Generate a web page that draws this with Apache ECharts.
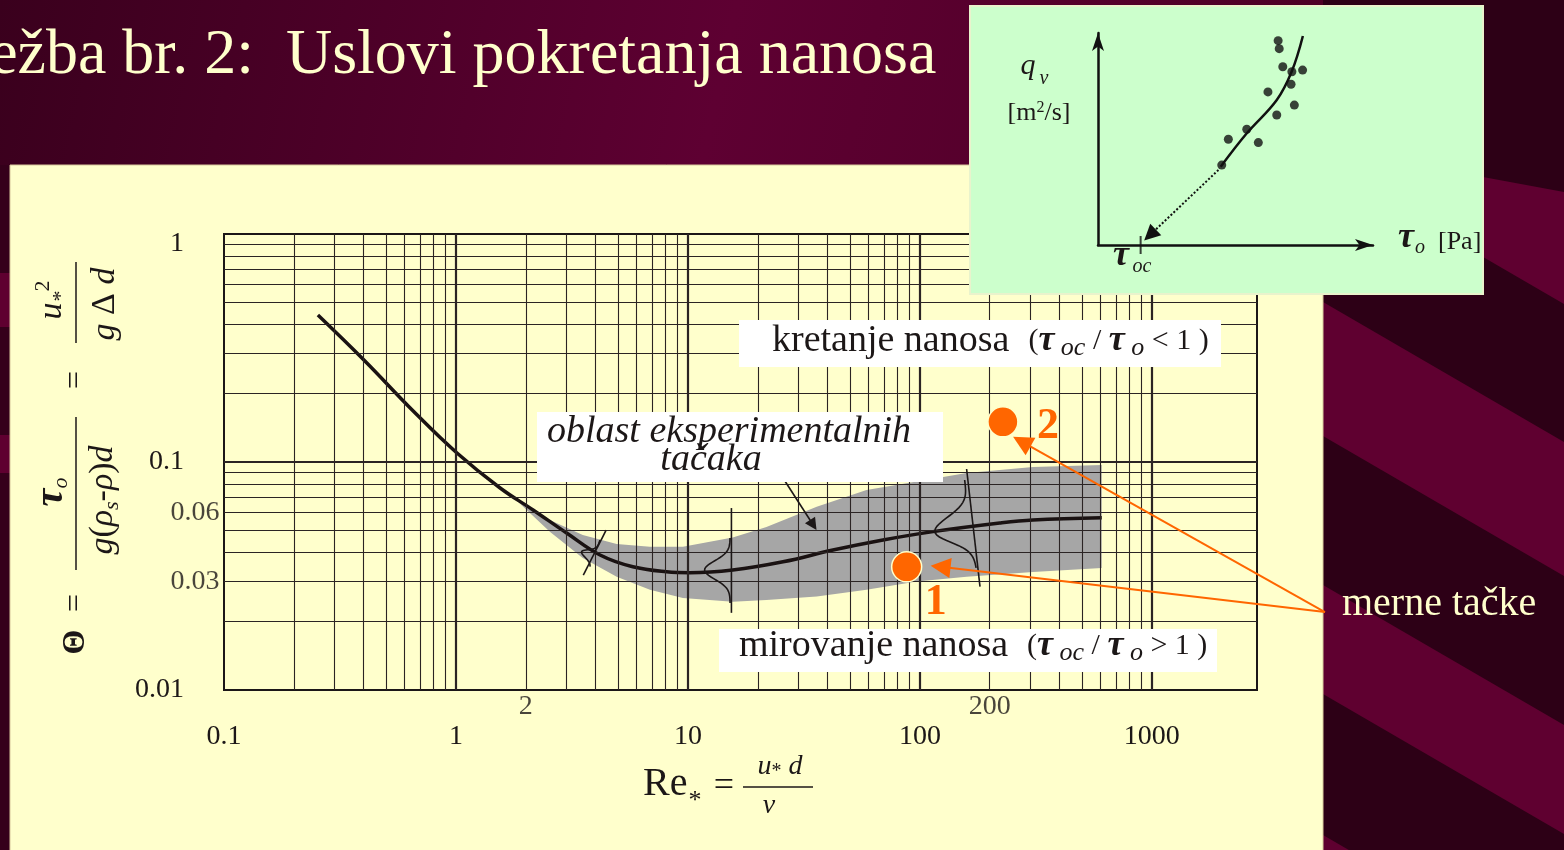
<!DOCTYPE html>
<html>
<head>
<meta charset="utf-8">
<title>Uslovi pokretanja nanosa</title>
<script src="https://cdn.jsdelivr.net/npm/echarts@6/dist/echarts.min.js"></script>
<style>
  html, body { margin: 0; padding: 0; background: #3b001f; }
  #main { width: 1564px; height: 850px; }
</style>
</head>
<body>
<div id="main"></div>
<script>
// axis ranges and tick labels (Shields diagram, log-log)
const xRange = [0.1, 2840];
const yRange = [0.01, 1];
const xExtraLabels = [2, 200];
const yExtraLabels = [0.03, 0.06];

// critical Shields curve Θ(Re*)
const curveRe    = [0.254, 0.401, 0.659, 1.01, 1.55, 2.15, 3.00, 4.18, 5.79, 8.09, 10.2, 15.6, 25.7, 42.2, 69.3, 114, 221, 307, 608];
const curveTheta = [0.441, 0.280, 0.166, 0.1095, 0.0769, 0.0616, 0.0488, 0.0391, 0.0347, 0.0330, 0.0327, 0.0336, 0.0365, 0.0411, 0.0455, 0.0495, 0.0540, 0.0557, 0.0570];

// area of experimental points (grey band)
const bandRe    = [1.85, 2.54, 3.52, 4.93, 6.86, 9.51, 15.6, 21.8, 35.9, 58.9, 96.9, 159, 307, 608];
const bandUpper = [0.067, 0.0557, 0.0479, 0.0437, 0.0425, 0.0425, 0.0467, 0.0519, 0.0637, 0.0754, 0.0821, 0.0895, 0.095, 0.097];
const bandLower = [0.067, 0.0495, 0.0379, 0.0314, 0.0275, 0.0253, 0.0244, 0.0248, 0.0257, 0.0275, 0.0299, 0.0314, 0.0329, 0.0343];

// measured points 1 and 2
const pointRe    = [87.7, 228];
const pointTheta = [0.0347, 0.150];
const pointNames = ['1', '2'];

// scatter bells: line start, line end, bell start, bell end, bell peak  (Re, Θ pairs)
const bells = [
  [3.54, 0.0319, 4.44, 0.0503, 4.18, 0.0455, 3.79, 0.0347, 3.48, 0.0404],
  [15.4, 0.0628, 15.4, 0.0218, 15.2, 0.0464, 15.2, 0.0241, 11.8, 0.0336],
  [159, 0.0932, 181.6, 0.0284, 156, 0.0834, 175, 0.0343, 116, 0.0495]
];
const bandArrow = [[24.1, 0.0941], [34.7, 0.0529]];
const orangeTail = [5574, 0.02198];
const orangeTips = [[122.8, 0.0347], [275, 0.1228]];

// inset: q_v vs tau_o
const insetDotX = [6.55, 6.59, 6.72, 7.05, 7.44, 6.18, 7.02, 7.14, 6.50, 5.41, 4.74, 5.83, 4.50];
const insetDotY = [9.64, 9.26, 8.41, 8.17, 8.25, 7.22, 7.58, 6.60, 6.13, 5.46, 4.99, 4.83, 3.77];
const insetCurveX = [4.46, 5.41, 6.50, 7.04, 7.45];
const insetCurveY = [3.69, 5.27, 6.84, 8.17, 9.86];
const insetArrow = [[4.38, 3.54], [1.89, 0.47]];
const insetTauOc = 1.55;

const SERIF = '"Liberation Serif", "Times New Roman", serif';
const INK = '#1c1717';
const CREAM = '#FFFFCC';
const ORANGE = '#ff6600';

// log grid lines
const minorX = [], minorY = [];
[0.1, 1, 10, 100].forEach(d => { for (let k = 2; k <= 9; k++) minorX.push(+(k * d).toPrecision(3)); });
[0.01, 0.1].forEach(d => { for (let k = 2; k <= 9; k++) minorY.push(+(k * d).toPrecision(3)); });
const majorX = [1, 10, 100, 1000];
const majorY = [0.1];
const gridMarks = [].concat(
  minorX.map(v => ({ xAxis: v, lineStyle: { width: 1.1 } })),
  majorX.map(v => ({ xAxis: v, lineStyle: { width: 2.2 } })),
  minorY.map(v => ({ yAxis: v, lineStyle: { width: 1.1 } })),
  majorY.map(v => ({ yAxis: v, lineStyle: { width: 2.2 } }))
);

const fmtDecade = v => {
  const e = Math.log10(v);
  if (Math.abs(e - Math.round(e)) > 1e-6) return '';
  return String(+v.toPrecision(4));
};

function txt(x, y, text, font, align, fill) {
  align = align || 'center';
  return {
    type: 'text', x: x, y: y, z: 110, silent: true,
    style: { text: text, font: font + ' ' + SERIF, fill: fill || INK, align: align, verticalAlign: 'middle',
             textAlign: align, textVerticalAlign: 'middle' }
  };
}
function richTxt(x, y, text, rich, align, baseSize) {
  return {
    type: 'text', x: x, y: y, z: 110, silent: true,
    style: { text: text, rich: rich, fontSize: baseSize || 38, fontFamily: SERIF, fill: INK,
             align: align, verticalAlign: 'middle', textAlign: align, textVerticalAlign: 'middle' }
  };
}
function rule(x1, y1, x2, y2, w, color) {
  return { type: 'line', z: 110, silent: true, shape: { x1, y1, x2, y2 }, style: { stroke: color || INK, lineWidth: w || 1.5 } };
}

const relRich = {
  a: { fontSize: 38, fontFamily: SERIF, fill: INK, lineHeight: 40 },
  p: { fontSize: 30, fontFamily: SERIF, fill: INK, lineHeight: 40 },
  t: { fontSize: 36, fontFamily: SERIF, fontStyle: 'italic', fontWeight: 'bold', fill: INK, lineHeight: 40 },
  s: { fontSize: 26, fontFamily: SERIF, fontStyle: 'italic', fill: INK, lineHeight: 22, verticalAlign: 'bottom' }
};
const mathRich = {
  i: { fontSize: 34, fontFamily: SERIF, fontStyle: 'italic', fill: INK, lineHeight: 40 },
  n: { fontSize: 34, fontFamily: SERIF, fill: INK, lineHeight: 40 },
  t: { fontSize: 40, fontFamily: SERIF, fontStyle: 'italic', fontWeight: 'bold', fill: INK, lineHeight: 40 },
  s: { fontSize: 22, fontFamily: SERIF, fontStyle: 'italic', fill: INK, lineHeight: 20, verticalAlign: 'bottom' },
  u: { fontSize: 22, fontFamily: SERIF, fill: INK, lineHeight: 20, verticalAlign: 'top' }
};

// background of the slide
const stripes = [
  [[1323, 150], [1483, 177], [1564, 192], [1564, 304], [1323, 164]],
  [[1323, 302], [1564, 442], [1564, 576], [1323, 436]],
  [[1323, 585], [1564, 725], [1564, 834], [1323, 694]],
  [[1323, 835], [1564, 975], [1564, 1110], [1323, 970]]
].map(p => ({ type: 'polygon', z: -18, silent: true, shape: { points: p }, style: { fill: '#5f0030' } }));

const graphics = [
  { type: 'rect', z: -20, silent: true, shape: { x: 0, y: 0, width: 1564, height: 850 },
    style: { fill: new echarts.graphic.LinearGradient(0, 0, 1, 0.4, [
      { offset: 0, color: '#3a001d' }, { offset: 0.45, color: '#5e0032' }, { offset: 1, color: '#45001f' }]) } },
  { type: 'rect', z: -19, silent: true, shape: { x: 1323, y: 0, width: 241, height: 850 }, style: { fill: '#2d0016' } },
  ...stripes,
  { type: 'rect', z: -18, silent: true, shape: { x: 0, y: 165, width: 10, height: 685 }, style: { fill: '#35001b' } },
  { type: 'rect', z: -17, silent: true, shape: { x: 0, y: 273, width: 10, height: 54 }, style: { fill: '#5f0030' } },
  { type: 'rect', z: -17, silent: true, shape: { x: 0, y: 435, width: 10, height: 38 }, style: { fill: '#5f0030' } },
  { type: 'rect', z: -15, silent: true, shape: { x: 10, y: 165, width: 1313, height: 690 },
    style: { fill: CREAM, stroke: '#d8c89c', lineWidth: 1 } },
  { type: 'rect', z: 50, silent: true, shape: { x: 970, y: 6, width: 513, height: 288 },
    style: { fill: '#CCFFCC', stroke: '#e9f3cc', lineWidth: 2 } },

  // slide title
  txt(-50, 56, 'Vežba br. 2:  Uslovi pokretanja nanosa', '64px', 'left', CREAM),

  // white label boxes
  { type: 'rect', z: 100, silent: true, shape: { x: 739, y: 320, width: 482, height: 47 }, style: { fill: '#fff' } },
  richTxt(772, 341, '{a|kretanje nanosa}  {p|(}{t|τ}{s| oc}{p| / }{t|τ}{s| o}{p| < 1 )}', relRich, 'left'),
  { type: 'rect', z: 100, silent: true, shape: { x: 537, y: 412, width: 406, height: 70 }, style: { fill: '#fff' } },
  txt(547, 432, 'oblast eksperimentalnih', 'italic 38px', 'left'),
  txt(711, 460, 'tačaka', 'italic 38px'),
  { type: 'rect', z: 100, silent: true, shape: { x: 719, y: 629, width: 498, height: 43 }, style: { fill: '#fff' } },
  richTxt(739, 646, '{a|mirovanje nanosa}  {p|(}{t|τ}{s| oc}{p| / }{t|τ}{s| o}{p| > 1 )}', relRich, 'left'),

  // right-hand label
  txt(1342, 604, 'merne tačke', '40px', 'left', CREAM),

  // x axis title  Re* = u* d / ν
  txt(643, 784, 'Re', '40px', 'left'),
  txt(695, 801, '*', '26px'),
  txt(724, 787, '=', '36px'),
  rule(743, 787, 813, 787, 1.5),
  richTxt(780, 767, '{i|u}{s|*}{i| d}', { i: { fontSize: 28, fontFamily: SERIF, fontStyle: 'italic', fill: INK, lineHeight: 30 },
    s: { fontSize: 20, fontFamily: SERIF, fill: INK, lineHeight: 16, verticalAlign: 'bottom' } }, 'center', 28),
  txt(769, 806, 'ν', 'italic 28px'),

  // y axis title (rotated)  Θ = τo / g(ρs-ρ)d = u*² / gΔd
  { type: 'group', x: 76, y: 690, rotation: Math.PI / 2, z: 110, silent: true, children: [
    txt(48, 0, 'Θ', 'bold 32px'),
    txt(87, 0, '=', '32px'),
    rule(120, 0, 273, 0, 1.5),
    richTxt(198, -24, '{t|τ}{s|o}', mathRich, 'center'),
    richTxt(190, 27, '{i|g}{n|(}{i|ρ}{s|s}{n|-}{i|ρ}{n|)}{i|d}', mathRich, 'center'),
    txt(310, 0, '=', '32px'),
    rule(347, 0, 428, 0, 1.5),
    richTxt(390, -24, '{i|u}{s|*}{u|2}', mathRich, 'center'),
    richTxt(386, 29, '{i|g}{n| Δ }{i|d}', mathRich, 'center')
  ] },

  // inset labels
  txt(1028, 66, 'q', 'italic 30px'),
  txt(1044, 79, 'v', 'italic 20px'),
  richTxt(1039, 113, '[m{u|2}/s]', { u: { fontSize: 16, fontFamily: SERIF, fill: INK, lineHeight: 14, verticalAlign: 'top' } }, 'center', 26),
  txt(1406, 238, 'τ', 'italic bold 36px'),
  txt(1420, 248, 'o', 'italic 20px'),
  txt(1438, 242, '[Pa]', '26px', 'left'),
  txt(1121, 256, 'τ', 'italic bold 36px'),
  txt(1142, 267, 'oc', 'italic 20px')
];

const chart = echarts.init(document.getElementById('main'));

const option = {
  animation: false,
  backgroundColor: '#3b001f',
  grid: [
    { left: 224, top: 234, width: 1033, height: 456, show: true, borderColor: INK, borderWidth: 2, backgroundColor: 'transparent' },
    { left: 1098, top: 33, width: 275, height: 212 }
  ],
  xAxis: [
    { type: 'log', gridIndex: 0, min: xRange[0], max: xRange[1], logBase: 10,
      axisLine: { lineStyle: { color: INK, width: 2 } }, axisTick: { show: false }, splitLine: { show: false },
      axisLabel: { margin: 33, fontFamily: SERIF, fontSize: 28, color: INK, formatter: fmtDecade, showMaxLabel: false } },
    { type: 'value', gridIndex: 1, min: 0, max: 10, z: 60,
      axisLine: { lineStyle: { color: '#111', width: 2.5 }, symbol: ['none', 'arrow'], symbolSize: [9, 18] },
      axisTick: { show: false }, axisLabel: { show: false }, splitLine: { show: false } }
  ],
  yAxis: [
    { type: 'log', gridIndex: 0, min: yRange[0], max: yRange[1], logBase: 10,
      axisLine: { lineStyle: { color: INK, width: 2 } }, axisTick: { show: false }, splitLine: { show: false },
      axisLabel: { margin: 40, fontFamily: SERIF, fontSize: 28, color: INK,
        formatter: v => { const s = fmtDecade(v); return s === '1' ? '{top|1}' : s; },
        rich: { top: { fontFamily: SERIF, fontSize: 28, color: INK, padding: [20, 0, 0, 0] } } } },
    { type: 'value', gridIndex: 1, min: 0, max: 10, z: 60,
      axisLine: { lineStyle: { color: '#111', width: 2.5 }, symbol: ['none', 'arrow'], symbolSize: [9, 18] },
      axisTick: { show: false }, axisLabel: { show: false }, splitLine: { show: false } }
  ],
  graphic: { elements: graphics },
  series: [
    { // grey area of experimental points
      type: 'custom', xAxisIndex: 0, yAxisIndex: 0, z: 1, silent: true,
      data: [[bandRe[0], bandUpper[0]]],
      renderItem: (params, api) => {
        const up = bandRe.map((r, i) => api.coord([r, bandUpper[i]]));
        const lo = bandRe.map((r, i) => api.coord([r, bandLower[i]])).reverse();
        return { type: 'polygon', shape: { points: up.concat(lo) }, style: { fill: '#a6a6a6' } };
      }
    },
    { // log grid
      type: 'line', xAxisIndex: 0, yAxisIndex: 0, z: 2, data: [], silent: true,
      markLine: { silent: true, symbol: ['none', 'none'], label: { show: false },
        lineStyle: { color: '#2b2424', type: 'solid' }, emphasis: { disabled: true }, data: gridMarks }
    },
    { // Shields curve
      type: 'line', xAxisIndex: 0, yAxisIndex: 0, z: 4, smooth: 0.4, symbol: 'none', silent: true,
      lineStyle: { color: '#1a1212', width: 3.5 },
      data: curveRe.map((r, i) => [r, curveTheta[i]])
    },
    { // distribution bells
      type: 'custom', xAxisIndex: 0, yAxisIndex: 0, z: 5, silent: true,
      data: bells,
      renderItem: (params, api) => {
        const c = i => api.coord([api.value(i), api.value(i + 1)]);
        const L1 = c(0), L2 = c(2), S = c(4), E = c(6), P = c(8);
        const dx = E[0] - S[0], dy = E[1] - S[1];
        const len = Math.hypot(dx, dy), ux = dx / len, uy = dy / len;
        const t0 = ((P[0] - S[0]) * ux + (P[1] - S[1]) * uy) / len;
        const bx = S[0] + ux * t0 * len, by = S[1] + uy * t0 * len;
        const nx = P[0] - bx, ny = P[1] - by;
        const pts = [];
        for (let k = 0; k <= 40; k++) {
          const t = k / 40;
          const g = Math.exp(-Math.pow((t - t0) / 0.2, 2));
          pts.push([S[0] + ux * t * len + nx * g, S[1] + uy * t * len + ny * g]);
        }
        return { type: 'group', children: [
          { type: 'line', shape: { x1: L1[0], y1: L1[1], x2: L2[0], y2: L2[1] }, style: { stroke: INK, lineWidth: 1.6 } },
          { type: 'polyline', shape: { points: pts }, style: { stroke: INK, lineWidth: 1.6, fill: null } }
        ] };
      }
    },
    { // arrow from the band label
      type: 'lines', coordinateSystem: 'cartesian2d', xAxisIndex: 0, yAxisIndex: 0, z: 5, silent: true, clip: false,
      symbol: ['none', 'triangle'], symbolSize: 12,
      lineStyle: { color: INK, width: 1.6, opacity: 1 },
      data: [{ coords: bandArrow }]
    },
    { // measured points
      type: 'scatter', xAxisIndex: 0, yAxisIndex: 0, z: 7, silent: true, clip: false,
      symbolSize: 30, itemStyle: { color: ORANGE, borderColor: CREAM, borderWidth: 1.5, opacity: 1 },
      label: { show: true, position: 'inside', color: ORANGE, fontFamily: SERIF, fontSize: 44, fontWeight: 'bold',
        formatter: p => pointNames[p.dataIndex] },
      data: pointRe.map((r, i) => ({ value: [r, pointTheta[i]], label: { offset: i === 0 ? [29, 36] : [45, 5] } }))
    },
    { // orange arrows from "merne tačke"
      type: 'lines', coordinateSystem: 'cartesian2d', xAxisIndex: 0, yAxisIndex: 0, z: 6, silent: true, clip: false,
      symbol: ['none', 'triangle'], symbolSize: 20,
      lineStyle: { color: ORANGE, width: 2, opacity: 1 },
      data: orangeTips.map(t => ({ coords: [orangeTail, t] }))
    },
    { // extra tick labels 2, 200
      type: 'scatter', xAxisIndex: 0, yAxisIndex: 0, z: 6, silent: true, clip: false, symbolSize: 1,
      itemStyle: { color: 'rgba(0,0,0,0)' },
      label: { show: true, position: 'bottom', distance: 2, color: INK, fontFamily: SERIF, fontSize: 28,
        formatter: p => String(p.value[0]) },
      data: xExtraLabels.map(v => [v, yRange[0]])
    },
    { // extra tick labels 0.03, 0.06
      type: 'scatter', xAxisIndex: 0, yAxisIndex: 0, z: 6, silent: true, clip: false, symbolSize: 1,
      itemStyle: { color: 'rgba(0,0,0,0)' },
      label: { show: true, position: 'left', distance: 4, color: INK, fontFamily: SERIF, fontSize: 28,
        formatter: p => String(p.value[1]) },
      data: yExtraLabels.map(v => [xRange[0], v])
    },
    // inset
    {
      type: 'scatter', xAxisIndex: 1, yAxisIndex: 1, z: 61, silent: true, symbolSize: 9,
      itemStyle: { color: '#111' },
      data: insetDotX.map((x, i) => [x, insetDotY[i]])
    },
    {
      type: 'line', xAxisIndex: 1, yAxisIndex: 1, z: 61, smooth: 0.4, symbol: 'none', silent: true,
      lineStyle: { color: '#111', width: 2.5 },
      data: insetCurveX.map((x, i) => [x, insetCurveY[i]])
    },
    {
      type: 'lines', coordinateSystem: 'cartesian2d', xAxisIndex: 1, yAxisIndex: 1, z: 61, silent: true, clip: false,
      symbol: ['none', 'triangle'], symbolSize: 16,
      lineStyle: { color: '#111', width: 2, type: 'dotted', opacity: 1 },
      data: [{ coords: insetArrow }]
    },
    {
      type: 'scatter', xAxisIndex: 1, yAxisIndex: 1, z: 62, silent: true, clip: false,
      symbol: 'rect', symbolSize: [2, 18], itemStyle: { color: '#111' },
      data: [[insetTauOc, 0]]
    }
  ]
};

chart.setOption(option);
</script>
</body>
</html>
